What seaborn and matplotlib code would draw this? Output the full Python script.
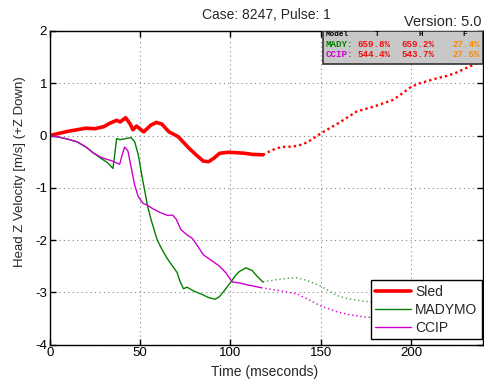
import numpy as np
import pandas as pd
import matplotlib
matplotlib.use("Agg")
import matplotlib.pyplot as plt
import seaborn as sns
from matplotlib.patches import Rectangle

# ---------------- data ----------------
sled_t = [0, 5, 10, 15, 20, 25, 30, 33, 37, 39, 42, 44.5, 46, 48, 52, 56, 59, 62, 66, 71,
          77, 81, 85, 88, 91, 94, 99, 104, 108, 112, 118]
sled_v = [0, 0.04, 0.08, 0.11, 0.14, 0.13, 0.17, 0.23, 0.29, 0.26, 0.34, 0.22, 0.11, 0.18,
          0.07, 0.2, 0.25, 0.22, 0.07, -0.02, -0.24, -0.37, -0.49, -0.5, -0.43, -0.34, -0.32,
          -0.33, -0.34, -0.36, -0.37]
sled_ext_t = [118, 123, 128, 135, 140, 145, 150, 155, 160, 165, 170, 175, 180, 185, 190,
              195, 200, 205, 210, 215, 220, 225, 230, 235, 240]
sled_ext_v = [-0.37, -0.28, -0.22, -0.21, -0.17, -0.08, 0.04, 0.14, 0.24, 0.35, 0.46, 0.51,
              0.56, 0.62, 0.68, 0.8, 0.93, 1.0, 1.05, 1.1, 1.14, 1.2, 1.28, 1.36, 1.44]

mady_t = [0, 5, 10, 15, 20, 24, 28, 32, 35, 36, 37, 39, 42, 45, 47, 49, 51, 52.7, 54, 56,
          59.5, 62, 65, 68, 70.5, 72, 74, 76, 79.5, 85, 88, 91.5, 94, 97, 100.7, 103, 105,
          108.6, 112, 115, 118]
mady_v = [0, -0.03, -0.07, -0.12, -0.22, -0.33, -0.43, -0.52, -0.63, -0.35, -0.06, -0.08,
          -0.06, -0.04, -0.12, -0.37, -0.77, -1.08, -1.33, -1.6, -2.0, -2.17, -2.35, -2.5,
          -2.62, -2.78, -2.93, -2.9, -2.97, -3.05, -3.1, -3.13, -3.08, -2.95, -2.78, -2.67,
          -2.6, -2.53, -2.58, -2.7, -2.8]
mady_ext_t = [118, 125, 132, 137, 143, 150, 155, 159, 165, 174, 185, 200, 215, 230, 240]
mady_ext_v = [-2.8, -2.76, -2.73, -2.72, -2.78, -2.88, -2.98, -3.06, -3.12, -3.17, -3.2,
              -3.22, -3.21, -3.2, -3.2]

ccip_t = [0, 5, 10, 15, 20, 24, 28, 31, 34, 36.8, 38.7, 40, 41.4, 43.3, 45, 47, 49, 51.7,
          54, 57, 61, 65.3, 68, 70, 72.6, 76, 79, 82, 85, 90, 94, 97.6, 101, 105, 110, 117]
ccip_v = [0, -0.03, -0.07, -0.12, -0.22, -0.33, -0.41, -0.45, -0.48, -0.52, -0.55, -0.38,
          -0.22, -0.3, -0.6, -0.95, -1.17, -1.3, -1.33, -1.4, -1.47, -1.53, -1.52, -1.6,
          -1.8, -1.9, -1.97, -2.12, -2.28, -2.4, -2.5, -2.63, -2.8, -2.82, -2.86, -2.91]
ccip_ext_t = [117, 128, 137, 143, 150, 159, 165, 174, 190, 210, 225, 240]
ccip_ext_v = [-2.91, -2.97, -3.03, -3.13, -3.26, -3.37, -3.42, -3.47, -3.5, -3.53, -3.55,
              -3.56]

x_ticks = [0, 50, 100, 150, 200]
y_ticks = [-4, -3, -2, -1, 0, 1, 2]

table_header = ["Model", "T", "H", "F"]
table_models = ["MADY:", "CCIP:"]
table_T = ["659.8%", "544.4%"]
table_H = ["659.2%", "543.7%"]
table_F = ["27.4%", "27.5%"]

# ---------------- style ----------------
sns.set_theme(style="white")
plt.rcParams["font.family"] = ["Liberation Sans", "DejaVu Sans"]

RED = "#ff0000"
GREEN = "#008000"
MAG = "#cc00cc"

fig = plt.figure(figsize=(4.85, 3.83), dpi=100)
ax = fig.add_axes([0.1027, 0.100, 0.8936, 0.8193])

def draw(t, v, color, lw, ls, label=None):
    df = pd.DataFrame({"t": t, "v": v})
    sns.lineplot(data=df, x="t", y="v", ax=ax, color=color, linewidth=lw,
                 linestyle=ls, sort=False, estimator=None,
                 label=label if label else "_nolegend_")

draw(sled_ext_t, sled_ext_v, RED, 1.7, (0, (1, 1.3)))
draw(mady_ext_t, mady_ext_v, "#4aa04a", 1.0, (0, (1, 2)))
draw(ccip_ext_t, ccip_ext_v, MAG, 1.0, (0, (1, 2)))
draw(sled_t, sled_v, RED, 2.6, "-", "Sled")
draw(mady_t, mady_v, GREEN, 1.0, "-", "MADYMO")
draw(ccip_t, ccip_v, MAG, 1.0, "-", "CCIP")

ax.set_xlim(0, 240)
ax.set_ylim(-4, 2)
ax.set_xticks(x_ticks)
ax.set_yticks(y_ticks)
ax.set_xticklabels([str(v) for v in x_ticks], fontsize=9.5)
ax.set_yticklabels([str(v) for v in y_ticks], fontsize=9.5)
ax.set_xlabel("")
ax.set_ylabel("")
ax.grid(True, linestyle=(0, (1, 3)), color="#888888", linewidth=0.8)
ax.tick_params(direction="in", length=4, width=1, top=True, right=True,
               bottom=True, left=True, colors="black", pad=2)
for s in ax.spines.values():
    s.set_color("black")
    s.set_linewidth(1.0)

leg = ax.legend(loc="lower right", bbox_to_anchor=(0.9966, 0.018), borderaxespad=0,
                fontsize=10, frameon=True, fancybox=False, edgecolor="black",
                handlelength=2.6, handletextpad=0.3, labelspacing=0.3,
                borderpad=0.3)
leg.get_frame().set_linewidth(1.0)
leg.get_frame().set_facecolor("white")
leg.get_frame().set_alpha(1)

# table box
rect = Rectangle((0.63, 0.894), 0.37, 0.106, transform=ax.transAxes,
                 facecolor="#c8c8c8", edgecolor="#333333", linewidth=1.2, zorder=5)
ax.add_patch(rect)
mono = dict(family=["Liberation Mono", "DejaVu Sans Mono"], fontweight="bold",
            transform=ax.transAxes, va="center", zorder=6)
ax.text(0.637, 0.990, table_header[0], fontsize=5.5, color="black", ha="left", **mono)
ax.text(0.754, 0.990, table_header[1], fontsize=5.5, color="black", ha="center", **mono)
ax.text(0.856, 0.990, table_header[2], fontsize=5.5, color="black", ha="center", **mono)
ax.text(0.958, 0.990, table_header[3], fontsize=5.5, color="black", ha="center", **mono)
row_y = [0.958, 0.926]
model_colors = [GREEN, MAG]
for i in range(2):
    ax.text(0.637, row_y[i], table_models[i], fontsize=6.6, color=model_colors[i], ha="left", **mono)
    ax.text(0.710, row_y[i], table_T[i], fontsize=6.6, color="#ee1111", ha="left", **mono)
    ax.text(0.812, row_y[i], table_H[i], fontsize=6.6, color="#ee1111", ha="left", **mono)
    ax.text(0.930, row_y[i], table_F[i], fontsize=6.6, color="#ff8800", ha="left", **mono)

fig.text(266 / 485, 1 - 15 / 383, "Case: 8247, Pulse: 1", ha="center", va="center", fontsize=10)
fig.text(482 / 485, 1 - 22 / 383, "Version: 5.0", ha="right", va="center", fontsize=10.5)
fig.text(265 / 485, 1 - 372 / 383, "Time (mseconds)", ha="center", va="center", fontsize=10)
fig.text(20 / 485, 1 - 172 / 383, "Head Z Velocity [m/s] (+Z Down)", ha="center",
         va="center", rotation=90, fontsize=9.5)

fig.savefig("out.png", dpi=100)
